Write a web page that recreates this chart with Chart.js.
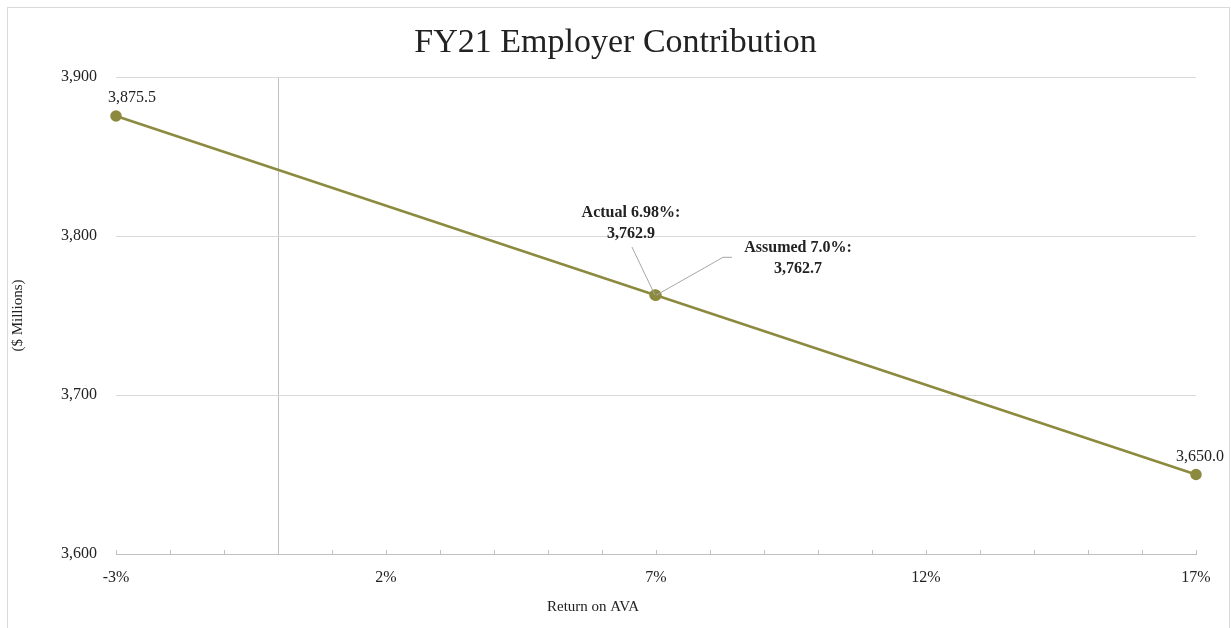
<!DOCTYPE html>
<html>
<head>
<meta charset="utf-8">
<script src="https://cdn.jsdelivr.net/npm/chart.js@4.4.1/dist/chart.umd.min.js"></script>
<style>
  html, body { margin: 0; padding: 0; background: #fff; overflow: hidden; }
  #wrap { position: relative; width: 1231px; height: 628px; }
  #frame { position: absolute; left: 7px; top: 7px; width: 1221px; height: 700px; border: 1px solid #d9d9d9; }
  canvas { position: absolute; left: 0; top: 0; }
</style>
</head>
<body>
<div id="wrap">
  <div id="frame"></div>
  <canvas id="lineChart" width="1231" height="628"></canvas>
</div>
<script>
  // Return on AVA (%) vs FY21 employer contribution ($ millions)
  const returns = [-3, 6.98, 7, 17];
  const contributions = [3875.5, 3762.9, 3762.7, 3650.0];
  const xTickValues = [-3, 2, 7, 12, 17];
  const xTickLabels = ["-3%", "2%", "7%", "12%", "17%"];
  const yTickValues = [3600, 3700, 3800, 3900];
  const yTickLabels = ["3,600", "3,700", "3,800", "3,900"];

  const FONT = "'Liberation Serif', 'Times New Roman', serif";
  const OLIVE = "#8c8a3e";

  const fmt = (v) =>
    v.toLocaleString("en-US", { minimumFractionDigits: 1, maximumFractionDigits: 1 });

  // plain value labels above the end points
  const endLabels = [
    { index: 0, dx: 16, dy: -18 },
    { index: 3, dx: 4, dy: -18 },
  ];

  // call-out labels for the two middle points
  const callouts = [
    { index: 1, title: "Actual 6.98%:", tx: -24, ty: -82, leader: [[-23, -48], [0, 0]] },
    { index: 2, title: "Assumed 7.0%:", tx: 142, ty: -47, leader: [[0, 0], [67, -38], [76, -38]] },
  ];

  const overlay = {
    id: "overlay",
    afterDraw(chart) {
      const { ctx, chartArea } = chart;
      const xs = chart.scales.x;
      const meta = chart.getDatasetMeta(0);

      ctx.save();

      // small inside tick marks every 1%
      ctx.strokeStyle = "#bfbfbf";
      ctx.lineWidth = 1;
      for (let v = xs.min; v <= xs.max; v++) {
        const px = Math.round(xs.getPixelForValue(v)) + 0.5;
        ctx.beginPath();
        ctx.moveTo(px, chartArea.bottom);
        ctx.lineTo(px, chartArea.bottom - 4);
        ctx.stroke();
      }

      // chart title
      ctx.fillStyle = "#222";
      ctx.textAlign = "center";
      ctx.textBaseline = "middle";
      ctx.font = "34px " + FONT;
      ctx.fillText("FY21 Employer Contribution", chart.width / 2, 43);

      // axis titles
      ctx.font = "15px " + FONT;
      ctx.fillText("Return on AVA", 593, 607);
      ctx.save();
      ctx.translate(18, (chartArea.top + chartArea.bottom) / 2);
      ctx.rotate(-Math.PI / 2);
      ctx.fillText("($ Millions)", 0, 0);
      ctx.restore();

      // end point value labels
      ctx.font = "16px " + FONT;
      endLabels.forEach((l) => {
        const p = meta.data[l.index];
        ctx.fillText(fmt(contributions[l.index]), p.x + l.dx, p.y + l.dy);
      });

      // call-outs with leader lines
      callouts.forEach((c) => {
        const p = meta.data[c.index];
        ctx.strokeStyle = "#a6a6a6";
        ctx.lineWidth = 1;
        ctx.beginPath();
        c.leader.forEach(([dx, dy], i) => {
          if (i === 0) ctx.moveTo(p.x + dx, p.y + dy);
          else ctx.lineTo(p.x + dx, p.y + dy);
        });
        ctx.stroke();
        ctx.fillStyle = "#222";
        ctx.font = "bold 16px " + FONT;
        ctx.fillText(c.title, p.x + c.tx, p.y + c.ty);
        ctx.fillText(fmt(contributions[c.index]), p.x + c.tx, p.y + c.ty + 21);
      });

      ctx.restore();
    },
  };

  const ctx = document.getElementById("lineChart").getContext("2d");
  new Chart(ctx, {
    type: "scatter",
    data: {
      datasets: [
        {
          data: returns.map((r, i) => ({ x: r, y: contributions[i] })),
          showLine: true,
          borderColor: OLIVE,
          backgroundColor: OLIVE,
          borderWidth: 2.5,
          pointRadius: 4.5,
          pointHoverRadius: 4.5,
          clip: false,
        },
      ],
    },
    options: {
      responsive: false,
      animation: false,
      events: [],
      layout: { padding: { top: 77, right: 35, left: 0, bottom: 0 } },
      plugins: {
        legend: { display: false },
        tooltip: { enabled: false },
        title: { display: false },
      },
      scales: {
        x: {
          type: "linear",
          min: -3,
          max: 17,
          afterFit: (s) => { s.height = 74; },
          afterBuildTicks: (s) => {
            const t = [];
            for (let v = -3; v <= 17; v++) t.push({ value: v });
            s.ticks = t;
          },
          ticks: {
            autoSkip: false,
            maxRotation: 0,
            padding: 14,
            color: "#222",
            font: { family: FONT, size: 16 },
            callback: (v) => {
              const i = xTickValues.indexOf(v);
              return i >= 0 ? xTickLabels[i] : "";
            },
          },
          grid: {
            drawTicks: false,
            color: (c) => (c.tick && c.tick.value === 0 ? "#bfbfbf" : "transparent"),
            lineWidth: 1,
          },
          border: { display: true, color: "#bfbfbf", width: 1 },
        },
        y: {
          min: 3600,
          max: 3900,
          afterFit: (s) => { s.width = 116; },
          afterBuildTicks: (s) => {
            s.ticks = yTickValues.map((v) => ({ value: v }));
          },
          ticks: {
            padding: 19,
            color: "#222",
            font: { family: FONT, size: 16 },
            callback: (v) => yTickLabels[yTickValues.indexOf(v)],
          },
          grid: { drawTicks: false, color: "#d9d9d9", lineWidth: 1 },
          border: { display: false },
        },
      },
    },
    plugins: [overlay],
  });
</script>
</body>
</html>
